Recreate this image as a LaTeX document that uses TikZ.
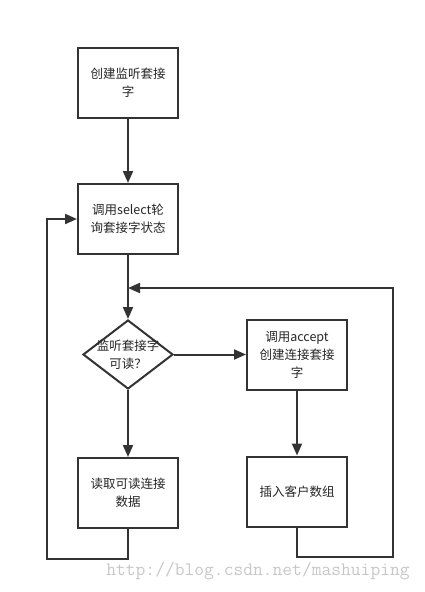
\documentclass[tikz,border=0pt]{standalone}
\usepackage{fontspec}
\setmainfont{Noto Sans CJK SC}
\usepackage{tikz}
\usetikzlibrary{positioning, shapes.geometric, arrows.meta}

\begin{document}
\begin{tikzpicture}[x=1pt, y=-1pt,
boxnode/.style={rectangle, draw=black!80, fill=white, line width=2pt, minimum width=100pt, minimum height=70pt, align=center, text=black!85, font=\fontsize{12.5}{18}\selectfont},
choicenode/.style={diamond, draw=black!80, fill=white, line width=2pt, minimum width=90pt, minimum height=69pt, inner sep=0pt},
line/.style={draw=black!80, line width=2pt},
arrow/.style={line, -{Triangle[length=12pt, width=10pt]}},
]
\useasboundingbox (0,0) rectangle (425,592);
    \node[boxnode]      (socket)    at (128,83)                   {创建监听套接\\字};
    \node[boxnode]      (select)    [below=64pt of socket]        {调用select轮\\询套接字状态};
    \node[choicenode]   (readable)  [below=64pt of select,
        label={[align=center, text=black!85, font=\fontsize{12.5}{18}\selectfont]center:监听套接字\\可读？}] {};
    \node[boxnode]      (accept)    [right=72pt of readable]      {调用accept\\创建连接套接\\字};
    \node[boxnode]      (read)      [below=67pt of readable]      {读取可读连接\\数据};
    \node[boxnode]      (insert)    [below=65pt of accept]        {插入客户数组};
    \node[text=black!22, font=\ttfamily\fontsize{19}{19}\selectfont] (mark) at (258,571) {http://blog.csdn.net/mashuiping};

    \coordinate (merge)     at (128,288);
    \coordinate (rightdown) at (393,557);
    \coordinate (leftdown)  at (47,559);

    \draw[arrow] (socket.south) -- (select.north);
    \draw[arrow] (select.south) -- (readable.north);
    \draw[arrow] (readable.east) -- (accept.west);
    \draw[arrow] (readable.south) -- (read.north);
    \draw[arrow] (accept.south) -- (insert.north);
    \draw[arrow] (insert.south) |- (rightdown) |- (merge);
    \draw[arrow] (read.south) |- (leftdown) |- (select.west);
\end{tikzpicture}
\end{document}
